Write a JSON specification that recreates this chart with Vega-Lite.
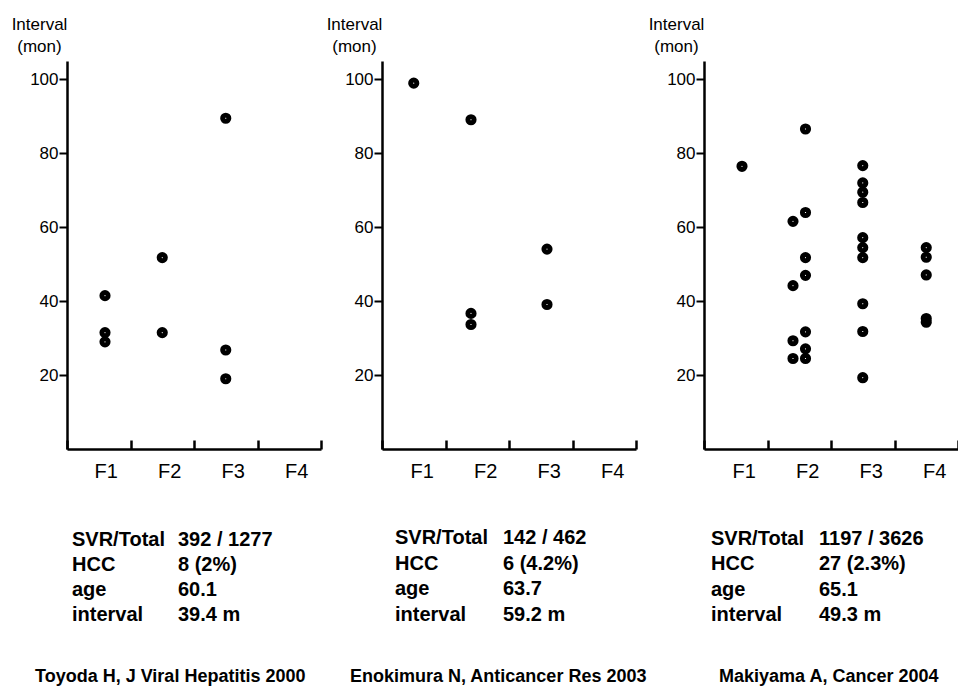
{
  "$schema": "https://vega.github.io/schema/vega-lite/v6.json",
  "background": "white",
  "padding": {"left": 11, "top": 15, "right": 0, "bottom": 0},
  "datasets": {
    "toyoda": [
      {"stage": "F1", "side": "R", "interval": 41.5},
      {"stage": "F1", "side": "R", "interval": 31.5},
      {"stage": "F1", "side": "R", "interval": 29.0},
      {"stage": "F2", "side": "C", "interval": 51.8},
      {"stage": "F2", "side": "C", "interval": 31.5},
      {"stage": "F3", "side": "C", "interval": 89.5},
      {"stage": "F3", "side": "C", "interval": 26.8},
      {"stage": "F3", "side": "C", "interval": 19.0}
    ],
    "enokimura": [
      {"stage": "F1", "side": "C", "interval": 99.0},
      {"stage": "F2", "side": "L", "interval": 89.1},
      {"stage": "F2", "side": "L", "interval": 36.7},
      {"stage": "F2", "side": "L", "interval": 33.7},
      {"stage": "F3", "side": "R", "interval": 54.1},
      {"stage": "F3", "side": "R", "interval": 39.1}
    ],
    "makiyama": [
      {"stage": "F1", "side": "R", "interval": 76.5},
      {"stage": "F2", "side": "R", "interval": 86.6},
      {"stage": "F2", "side": "R", "interval": 64.0},
      {"stage": "F2", "side": "L", "interval": 61.6},
      {"stage": "F2", "side": "R", "interval": 51.8},
      {"stage": "F2", "side": "R", "interval": 47.0},
      {"stage": "F2", "side": "L", "interval": 44.2},
      {"stage": "F2", "side": "R", "interval": 31.7},
      {"stage": "F2", "side": "L", "interval": 29.3},
      {"stage": "F2", "side": "R", "interval": 27.1},
      {"stage": "F2", "side": "L", "interval": 24.5},
      {"stage": "F2", "side": "R", "interval": 24.5},
      {"stage": "F3", "side": "C", "interval": 76.7},
      {"stage": "F3", "side": "C", "interval": 72.0},
      {"stage": "F3", "side": "C", "interval": 69.5},
      {"stage": "F3", "side": "C", "interval": 66.7},
      {"stage": "F3", "side": "C", "interval": 57.2},
      {"stage": "F3", "side": "C", "interval": 54.5},
      {"stage": "F3", "side": "C", "interval": 51.8},
      {"stage": "F3", "side": "C", "interval": 39.3},
      {"stage": "F3", "side": "C", "interval": 31.8},
      {"stage": "F3", "side": "C", "interval": 19.3},
      {"stage": "F4", "side": "C", "interval": 54.5},
      {"stage": "F4", "side": "C", "interval": 51.9},
      {"stage": "F4", "side": "C", "interval": 47.1},
      {"stage": "F4", "side": "C", "interval": 35.3},
      {"stage": "F4", "side": "C", "interval": 34.3}
    ],
    "toyoda_stats": [
      {"row": 1, "col": "k", "text": "SVR/Total"}, {"row": 1, "col": "v", "text": "392 / 1277"},
      {"row": 2, "col": "k", "text": "HCC"}, {"row": 2, "col": "v", "text": "8 (2%)"},
      {"row": 3, "col": "k", "text": "age"}, {"row": 3, "col": "v", "text": "60.1"},
      {"row": 4, "col": "k", "text": "interval"}, {"row": 4, "col": "v", "text": "39.4 m"}
    ],
    "enokimura_stats": [
      {"row": 1, "col": "k", "text": "SVR/Total"}, {"row": 1, "col": "v", "text": "142 / 462"},
      {"row": 2, "col": "k", "text": "HCC"}, {"row": 2, "col": "v", "text": "6 (4.2%)"},
      {"row": 3, "col": "k", "text": "age"}, {"row": 3, "col": "v", "text": "63.7"},
      {"row": 4, "col": "k", "text": "interval"}, {"row": 4, "col": "v", "text": "59.2 m"}
    ],
    "makiyama_stats": [
      {"row": 1, "col": "k", "text": "SVR/Total"}, {"row": 1, "col": "v", "text": "1197 / 3626"},
      {"row": 2, "col": "k", "text": "HCC"}, {"row": 2, "col": "v", "text": "27 (2.3%)"},
      {"row": 3, "col": "k", "text": "age"}, {"row": 3, "col": "v", "text": "65.1"},
      {"row": 4, "col": "k", "text": "interval"}, {"row": 4, "col": "v", "text": "49.3 m"}
    ]
  },
  "spacing": 3,
  "hconcat": [
    {
      "width": 254, "height": 388,
      "title": {"text": "Toyoda H, J Viral Hepatitis 2000", "orient": "bottom", "anchor": "start", "frame": "group", "dx": -32, "offset": 43},
      "layer": [
        {
          "data": {"name": "toyoda"},
          "mark": {"type": "point", "filled": false, "stroke": "black", "strokeWidth": 5, "size": 38, "opacity": 1},
          "encoding": {
            "x": {"field": "stage", "type": "nominal", "scale": {"type": "band", "domain": ["F1", "F2", "F3", "F4"], "paddingInner": 0, "paddingOuter": 0},
              "axis": {"title": null, "tickBand": "extent", "tickSize": -9, "tickWidth": 2.5, "domainWidth": 2.5, "labelFontSize": 20, "labelPadding": 21, "labelAngle": 0, "labelOffset": 7, "labelBaseline": "top"}},
            "xOffset": {"field": "side", "type": "nominal", "scale": {"domain": ["L", "C", "R"], "paddingInner": 0, "paddingOuter": 0, "range": [25.5, 38]}},
            "y": {"field": "interval", "type": "quantitative", "scale": {"domain": [0, 105], "nice": false},
              "axis": {"values": [20, 40, 60, 80, 100], "title": ["Interval", "(mon)"], "titleAngle": 0, "titleAlign": "center", "titleBaseline": "alphabetic", "titleX": -28, "titleY": -32, "titleFontSize": 17, "titleFontWeight": "normal", "titleLineHeight": 22, "labelFontSize": 17, "labelPadding": 1, "tickSize": 8, "tickWidth": 2, "domainWidth": 2.5}}
          }
        },
        {
          "data": {"name": "toyoda_stats"},
          "mark": {"type": "text", "align": "left", "baseline": "alphabetic", "fontSize": 20, "fontWeight": "bold", "color": "black"},
          "encoding": {
            "x": {"field": "col", "type": "nominal", "scale": {"type": "point", "domain": ["k", "v"], "range": [5, 111], "padding": 0}, "axis": null},
            "y": {"field": "row", "type": "quantitative", "scale": {"domain": [1, 4], "range": [485, 560]}, "axis": null},
            "text": {"field": "text"}
          }
        }
      ],
      "resolve": {"scale": {"x": "independent", "y": "independent"}, "axis": {"x": "independent", "y": "independent"}}
    },
    {
      "spacing": 0,
      "hconcat": [
        {
          "width": 254, "height": 388,
          "title": {"text": "Enokimura N, Anticancer Res 2003", "orient": "bottom", "anchor": "start", "frame": "group", "dx": -32, "offset": 43},
          "layer": [
            {
              "data": {"name": "enokimura"},
              "mark": {"type": "point", "filled": false, "stroke": "black", "strokeWidth": 5, "size": 38, "opacity": 1},
              "encoding": {
                "x": {"field": "stage", "type": "nominal", "scale": {"type": "band", "domain": ["F1", "F2", "F3", "F4"], "paddingInner": 0, "paddingOuter": 0},
                  "axis": {"title": null, "tickBand": "extent", "tickSize": -9, "tickWidth": 2.5, "domainWidth": 2.5, "labelFontSize": 20, "labelPadding": 21, "labelAngle": 0, "labelOffset": 8, "labelBaseline": "top"}},
                "xOffset": {"field": "side", "type": "nominal", "scale": {"domain": ["L", "C", "R"], "paddingInner": 0, "paddingOuter": 0, "range": [25.5, 38]}},
                "y": {"field": "interval", "type": "quantitative", "scale": {"domain": [0, 105], "nice": false},
                  "axis": {"values": [20, 40, 60, 80, 100], "title": ["Interval", "(mon)"], "titleAngle": 0, "titleAlign": "center", "titleBaseline": "alphabetic", "titleX": -28, "titleY": -32, "titleFontSize": 17, "titleFontWeight": "normal", "titleLineHeight": 22, "labelFontSize": 17, "labelPadding": 1, "tickSize": 8, "tickWidth": 2, "domainWidth": 2.5}}
              }
            },
            {
              "data": {"name": "enokimura_stats"},
              "mark": {"type": "text", "align": "left", "baseline": "alphabetic", "fontSize": 20, "fontWeight": "bold", "color": "black"},
              "encoding": {
                "x": {"field": "col", "type": "nominal", "scale": {"type": "point", "domain": ["k", "v"], "range": [13, 121], "padding": 0}, "axis": null},
                "y": {"field": "row", "type": "quantitative", "scale": {"domain": [1, 4], "range": [483, 560]}, "axis": null},
                "text": {"field": "text"}
              }
            }
          ],
          "resolve": {"scale": {"x": "independent", "y": "independent"}, "axis": {"x": "independent", "y": "independent"}}
        },
        {
          "width": 254, "height": 388,
          "title": {"text": "Makiyama A, Cancer  2004", "orient": "bottom", "anchor": "start", "frame": "group", "dx": 15, "offset": 43},
          "layer": [
            {
              "data": {"name": "makiyama"},
              "mark": {"type": "point", "filled": false, "stroke": "black", "strokeWidth": 5, "size": 38, "opacity": 1},
              "encoding": {
                "x": {"field": "stage", "type": "nominal", "scale": {"type": "band", "domain": ["F1", "F2", "F3", "F4"], "paddingInner": 0, "paddingOuter": 0},
                  "axis": {"title": null, "tickBand": "extent", "tickSize": -9, "tickWidth": 2.5, "domainWidth": 2.5, "labelFontSize": 20, "labelPadding": 21, "labelAngle": 0, "labelOffset": 8, "labelBaseline": "top"}},
                "xOffset": {"field": "side", "type": "nominal", "scale": {"domain": ["L", "C", "R"], "paddingInner": 0, "paddingOuter": 0, "range": [25.5, 38]}},
                "y": {"field": "interval", "type": "quantitative", "scale": {"domain": [0, 105], "nice": false},
                  "axis": {"values": [20, 40, 60, 80, 100], "title": ["Interval", "(mon)"], "titleAngle": 0, "titleAlign": "center", "titleBaseline": "alphabetic", "titleX": -28, "titleY": -32, "titleFontSize": 17, "titleFontWeight": "normal", "titleLineHeight": 22, "labelFontSize": 17, "labelPadding": 1, "tickSize": 8, "tickWidth": 2, "domainWidth": 2.5}}
              }
            },
            {
              "data": {"name": "makiyama_stats"},
              "mark": {"type": "text", "align": "left", "baseline": "alphabetic", "fontSize": 20, "fontWeight": "bold", "color": "black"},
              "encoding": {
                "x": {"field": "col", "type": "nominal", "scale": {"type": "point", "domain": ["k", "v"], "range": [7, 115], "padding": 0}, "axis": null},
                "y": {"field": "row", "type": "quantitative", "scale": {"domain": [1, 4], "range": [484, 560]}, "axis": null},
                "text": {"field": "text"}
              }
            }
          ],
          "resolve": {"scale": {"x": "independent", "y": "independent"}, "axis": {"x": "independent", "y": "independent"}}
        }
      ]
    }
  ],
  "config": {
    "view": {"stroke": null},
    "font": "Liberation Sans",
    "axis": {"domainColor": "black", "tickColor": "black", "labelColor": "black", "titleColor": "black", "grid": false, "labelFont": "Liberation Sans", "titleFont": "Liberation Sans"},
    "title": {"font": "Liberation Sans", "fontSize": 18, "fontWeight": "bold", "color": "black"},
    "text": {"font": "Liberation Sans"}
  }
}
